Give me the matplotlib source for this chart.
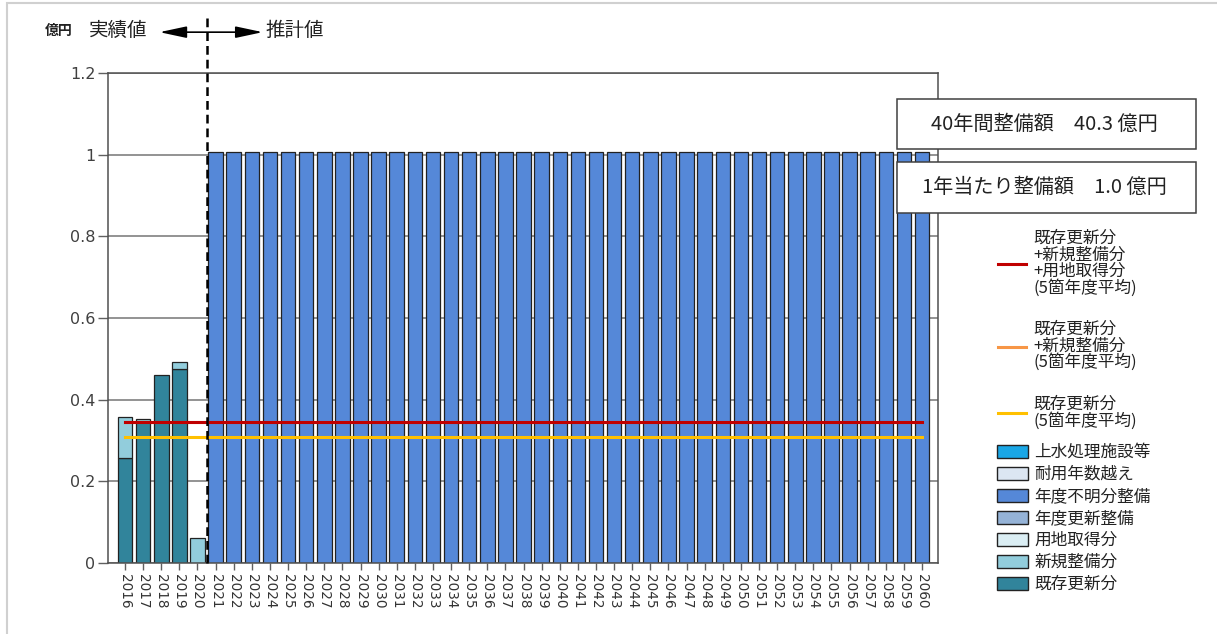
import numpy as np
import matplotlib
matplotlib.use("Agg")
import matplotlib.pyplot as plt
from matplotlib.patches import Patch, Rectangle
from matplotlib.lines import Line2D
from matplotlib.ticker import FuncFormatter

plt.rcParams['font.family'] = ['Noto Sans CJK JP', 'DejaVu Sans']

# Data (億円)
years = list(range(2016, 2061))
existing = [0.257, 0.345, 0.461, 0.476, 0.0] + [0.0] * 40       # 既存更新分
new_build = [0.100, 0.007, 0.0, 0.016, 0.0605] + [0.0] * 40     # 新規整備分
land = [0.0] * 45                                               # 用地取得分
unknown = [0.0] * 5 + [1.0075] * 40                             # 年度不明分整備
n_actual = 5                                                    # 2016-2020 実績

series = [
    ("既存更新分", existing, "#31849b"),
    ("新規整備分", new_build, "#92cddc"),
    ("用地取得分", land, "#dbeef4"),
    ("年度不明分整備", unknown, "#5588d8"),
]
legend_order = [
    ("上水処理施設等", "#1aa7e6"),
    ("耐用年数越え", "#dce6f2"),
    ("年度不明分整備", "#5588d8"),
    ("年度更新整備", "#95b3d7"),
    ("用地取得分", "#dbeef4"),
    ("新規整備分", "#92cddc"),
    ("既存更新分", "#31849b"),
]

x = np.array(years, dtype=float)
ex = np.array(existing)
nb = np.array(new_build)
ld = np.array(land)
avg_exist = ex[:n_actual].mean()
avg_exist_new = (ex + nb)[:n_actual].mean()
avg_all = (ex + nb + ld)[:n_actual].mean()

total_40 = sum(unknown)
per_year = total_40 / 40

fig = plt.figure(figsize=(12.17, 6.34), dpi=100)
ax = fig.add_axes([108 / 1217, 1 - 563 / 634, 830 / 1217, 490 / 634])

# stacked bars, skip empty segments
bottom = np.zeros(len(x))
for name, vals, col in series:
    v = np.array(vals)
    m = v > 0
    ax.bar(x[m], v[m], bottom=bottom[m], width=0.8, color=col,
           edgecolor="#222222", linewidth=0.9, zorder=2)
    bottom += v

# 5-year average lines
ax.plot([x[0], x[-1]], [avg_exist_new] * 2, color="#f79646", lw=2.2, zorder=3)
ax.plot([x[0], x[-1]], [avg_all] * 2, color="#c00000", lw=2.2, zorder=3)
ax.plot([x[0], x[-1]], [avg_exist] * 2, color="#ffc000", lw=2.2, zorder=3)

ax.set_xlim(2016 - 0.94, 2060 + 0.88)
ax.set_ylim(0, 1.2)
ax.set_yticks(np.arange(0, 1.21, 0.2))
ax.yaxis.set_major_formatter(FuncFormatter(lambda v, p: f"{v:g}"))
ax.set_xticks(years)
ax.set_xticklabels([str(y) for y in years], rotation=270, fontsize=9.8,
                   color="#333333", family="DejaVu Sans")
ax.tick_params(axis="y", length=7, width=1, color="#606060", labelsize=11.5,
               labelcolor="#404040", pad=2)
ax.tick_params(axis="x", length=5, width=1, color="#606060", pad=3)
for lab in ax.get_yticklabels():
    lab.set_family("DejaVu Sans")
ax.grid(axis="y", color="#808080", lw=1.2, zorder=0)
ax.set_axisbelow(True)
for s in ax.spines.values():
    s.set_color("#505050")
    s.set_linewidth(1.1)

# boundary between actual and estimate
ax.plot([2020.5, 2020.5], [0, 1.343], color="black", lw=1.8,
        ls=(0, (3.5, 2)), clip_on=False, zorder=5)
ax.annotate("", xy=(2017.9, 1.300), xytext=(2023.6, 1.300),
            xycoords="data", annotation_clip=False,
            arrowprops=dict(arrowstyle="<|-|>,head_length=0.75,head_width=0.16",
                            color="black", lw=1.2,
                            mutation_scale=22, shrinkA=0, shrinkB=0))
fig.text(45 / 1217, 1 - 31 / 634, "億円", fontsize=10, fontweight="bold",
         va="center", ha="left", color="#222222")
fig.text(89 / 1217, 1 - 30 / 634, "実績値", fontsize=14, va="center",
         ha="left", color="#222222")
fig.text(265 / 1217, 1 - 30 / 634, "推計値", fontsize=14, va="center",
         ha="left", color="#222222")

# summary boxes
for y0, y1, txt in [(99, 149, f"40年間整備額　{total_40:.1f} 億円"),
                    (162, 213, f"1年当たり整備額　{per_year:.1f} 億円")]:
    fig.add_artist(Rectangle((897 / 1217, 1 - y1 / 634), 299 / 1217,
                             (y1 - y0) / 634, transform=fig.transFigure,
                             facecolor="white", edgecolor="#404040", lw=1.1,
                             zorder=6))
    fig.text(1044 / 1217, 1 - (y0 + y1) / 2 / 634, txt, fontsize=14.5,
             ha="center", va="center", color="#222222", zorder=7)

# legends
line_handles = [
    Line2D([], [], color="#c00000", lw=2.2),
    Line2D([], [], color="#f79646", lw=2.2),
    Line2D([], [], color="#ffc000", lw=2.2),
]
line_labels = [
    "既存更新分\n+新規整備分\n+用地取得分\n(5箇年度平均)",
    "既存更新分\n+新規整備分\n(5箇年度平均)",
    "既存更新分\n(5箇年度平均)",
]
leg1 = fig.legend(line_handles, line_labels, loc="upper left",
                  bbox_to_anchor=(998 / 1217, 1 - 230 / 634), frameon=False,
                  fontsize=12, borderpad=0, borderaxespad=0,
                  handlelength=1.7, handletextpad=0.45, labelspacing=1.45)
for t in leg1.get_texts():
    t.set_color("#222222")
    t.set_linespacing(0.95)

patch_handles = [Patch(facecolor=c, edgecolor="#222222", lw=1.0)
                 for _, c in legend_order]
leg2 = fig.legend(patch_handles, [n for n, _ in legend_order],
                  loc="upper left", bbox_to_anchor=(997 / 1217, 1 - 444 / 634),
                  frameon=False, fontsize=12, borderpad=0, borderaxespad=0,
                  handlelength=1.85, handleheight=0.85, handletextpad=0.4,
                  labelspacing=0.3)
for t in leg2.get_texts():
    t.set_color("#222222")

# outer frame
fig.add_artist(Rectangle((7 / 1217, -0.01), 1.02, 1 - 3 / 634 + 0.01,
                         transform=fig.transFigure, fill=False,
                         edgecolor="#d0d0d0", lw=1.5))

fig.savefig("out.png", dpi=100)
